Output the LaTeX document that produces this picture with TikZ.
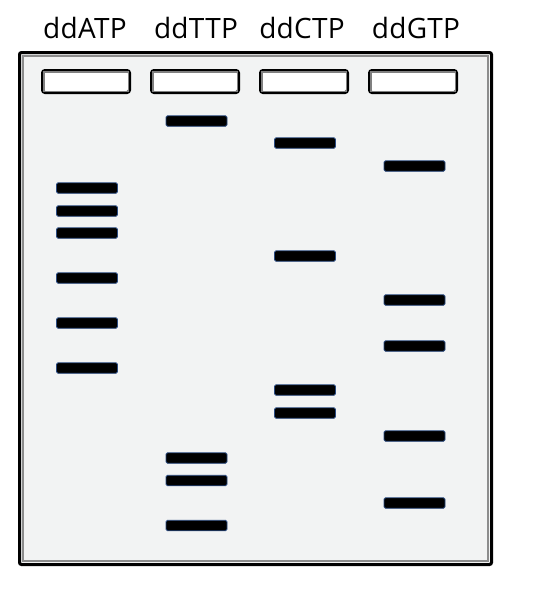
\documentclass[tikz,border=0pt]{standalone}
\usepackage{fontspec}
\setmainfont{Open Sans}
\begin{document}
\begin{tikzpicture}[x=1pt,y=-1pt,
  lbl/.style={anchor=base, inner sep=0pt, font=\fontsize{28}{32}\selectfont\addfontfeature{LetterSpace=1}, text=black},
  well/.style={draw=black, line width=3pt, fill=white, rounded corners=2.5pt,
    minimum width=87pt, minimum height=22pt, inner sep=0pt},
  band/.style={draw=bandblue, line width=0.8pt, fill=black, rounded corners=1.5pt,
    minimum width=61pt, minimum height=10.5pt, inner sep=0pt}]
\definecolor{gelfill}{HTML}{F2F3F3}
\definecolor{bandblue}{HTML}{2A4A80}
\useasboundingbox (0,0) rectangle (536,590);
% gel
\path[draw=black, line width=3pt, fill=gelfill, rounded corners=2pt] (19.5,52.5) rectangle (491.5,564.5);
\path[draw=black!45, line width=1.8pt] (22.8,55.8) rectangle (488.2,561.2);
% labels
\node[lbl] (la) at (85,38) {ddATP};
\node[lbl] (lt) at (196,38) {ddTTP};
\node[lbl] (lc) at (302,38) {ddCTP};
\node[lbl] (lg) at (416,38) {ddGTP};
% wells
\foreach \n/\x in {w1/86, w2/195, w3/304, w4/413}{
  \node[well] (\n) at (\x,81.5) {};
  \draw[black!50, line width=1.8pt] ([shift={(2.6,2.6)}]\n.north west) rectangle ([shift={(-2.6,-2.6)}]\n.south east);
}
% bands lane A
\foreach \y [count=\i] in {188,211,233,278,323,368}{ \node[band] (a\i) at (87,\y) {}; }
% lane T
\foreach \y [count=\i] in {121,458,480.5,525.5}{ \node[band] (t\i) at (196.5,\y) {}; }
% lane C
\foreach \y [count=\i] in {143,256,390,413}{ \node[band] (c\i) at (305,\y) {}; }
% lane G
\foreach \y [count=\i] in {166,300,346,436,503}{ \node[band] (g\i) at (414.5,\y) {}; }
\end{tikzpicture}
\end{document}
